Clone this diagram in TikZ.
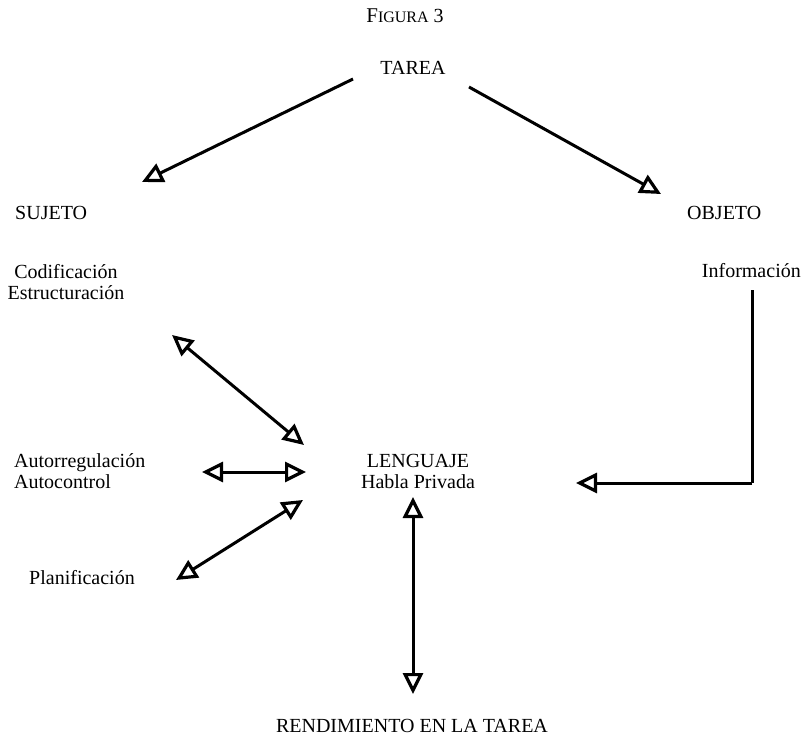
\documentclass[tikz,border=0pt]{standalone}
\usepackage{fontspec}
\setmainfont{Liberation Serif}
\usetikzlibrary{arrows.meta}
\begin{document}
\begin{tikzpicture}[x=1pt,y=-1pt,
  lbl/.style={inner sep=0pt, font=\fontsize{20}{21}\selectfont, align=center},
  conn/.style={line width=3pt, -{Triangle[open, length=21pt, width=20pt, line width=3.2pt]}},
  dconn/.style={line width=3pt, {Triangle[open, length=21pt, width=20pt, line width=3.2pt]}-{Triangle[open, length=21pt, width=20pt, line width=3.2pt]}},
  plain/.style={line width=3pt}]
\useasboundingbox (0,0) rectangle (804,745);
% texts
\node[lbl] (fig) at (405,16) {{\fontsize{21}{21}\selectfont F}{\fontsize{16}{16}\selectfont IGURA} 3};
\node[lbl] (tarea) at (413,68) {TAREA};
\node[lbl, anchor=west] (sujeto) at (15,213) {SUJETO};
\node[lbl, anchor=west] (objeto) at (687,213) {OBJETO};
\node[lbl] (codif) at (66,282) {Codificación\\Estructuración};
\node[lbl, anchor=east] (info) at (801,271) {Información};
\node[lbl] (leng) at (418,471) {LENGUAJE\\Habla Privada};
\node[lbl, align=left, anchor=west] (autor) at (14,471) {Autorregulación\\Autocontrol};
\node[lbl] (plan) at (82,578) {Planificación};
\node[lbl] (rend) at (412,726) {RENDIMIENTO EN LA TAREA};
% connector end points
\coordinate (t1) at (353,79);
\coordinate (s1) at (142,182);
\coordinate (t2) at (469,87);
\coordinate (o1) at (661,194);
\coordinate (c1) at (172,335);
\coordinate (l1) at (304,445);
\coordinate (a1) at (202,472);
\coordinate (l2) at (306,472);
\coordinate (p1) at (176,580);
\coordinate (l3) at (303,500);
\coordinate (l4) at (413,497);
\coordinate (r1) at (413,694);
\coordinate (i1) at (752,290);
\coordinate (i2) at (752,483);
\coordinate (l5) at (576,483);
% connectors
\draw[conn] (t1) -- (s1);
\draw[conn] (t2) -- (o1);
\draw[dconn] (c1) -- (l1);
\draw[dconn] (a1) -- (l2);
\draw[dconn] (p1) -- (l3);
\draw[dconn] (l4) -- (r1);
\draw[plain] (i1) -- (i2);
\draw[conn] (i2) -- (l5);
\end{tikzpicture}
\end{document}
